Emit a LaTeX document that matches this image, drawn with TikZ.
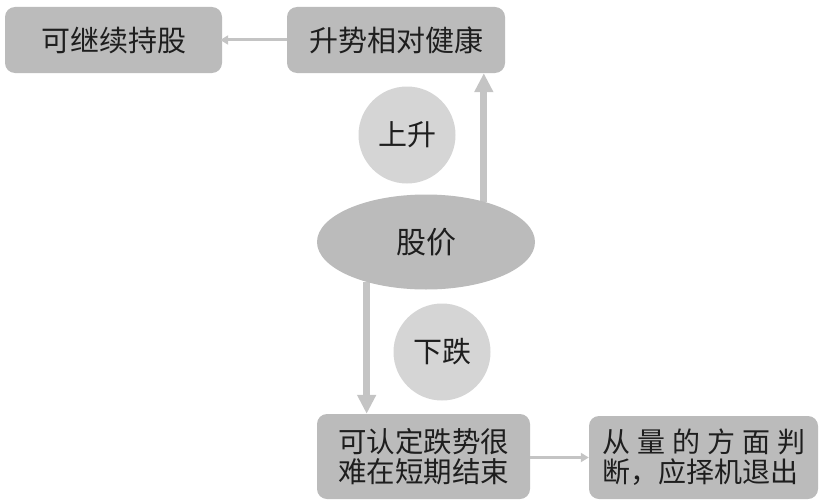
\documentclass[tikz,border=0pt]{standalone}
\usepackage{fontspec}
\setmainfont{Noto Sans CJK SC}
\usetikzlibrary{shapes.geometric,arrows.meta,backgrounds}
\definecolor{boxgray}{RGB}{187,187,187}
\definecolor{circgray}{RGB}{213,213,213}
\definecolor{arrgray}{RGB}{196,196,196}
\definecolor{txt}{RGB}{30,30,30}
\begin{document}
\begin{tikzpicture}[x=1pt,y=-1pt,
  box/.style={draw=none,fill=boxgray,rounded corners=10pt,inner sep=0pt,text=txt,font=\fontsize{29}{30}\selectfont},
  bubble/.style={circle,fill=circgray,inner sep=0pt,minimum size=97pt,text=txt,font=\fontsize{29}{30}\selectfont},
  thick arrow/.style={arrgray,line width=7pt,-{Triangle[width=18pt,length=19pt]}},
  thin arrow/.style={arrgray,line width=3pt,-{Triangle[width=9pt,length=8pt]}}
]
\useasboundingbox (0,0) rectangle (837,503);
\node[box,minimum width=217pt,minimum height=66pt] (hold) at (113.5,40) {可继续持股};
\node[box,minimum width=218pt,minimum height=66pt] (up) at (396,40) {升势相对健康};
\node[bubble] (rise) at (407,135) {上升};
\node[ellipse,fill=boxgray,minimum width=218pt,minimum height=95pt,inner sep=0pt,text=txt,font=\fontsize{30}{30}\selectfont] (price) at (426,242) {股价};
\node[bubble] (fall) at (442,352) {下跌};
\node[box,minimum width=213pt,minimum height=85pt,font=\fontsize{28.5}{30}\selectfont,align=center] (down) at (423.5,456.5) {可认定跌势很\\难在短期结束};
\node[box,minimum width=229pt,minimum height=83pt,font=\fontsize{28}{30}\selectfont,align=left] (exit) at (703.5,457.5)
  {\makebox[203pt][s]{从\hfill 量\hfill 的\hfill 方\hfill 面\hfill 判}\\断，应择机退出};
\begin{scope}[on background layer]
\draw[thick arrow] (price.35) -- (price.35 |- up.south);
\draw[thick arrow] (price.214) -- (price.214 |- down.north);
\end{scope}
\draw[thin arrow] (up.west) -- ([xshift=-2pt]hold.east);
\draw[thin arrow] (exit.west -| down.east) -- (exit.west);
\end{tikzpicture}
\end{document}
